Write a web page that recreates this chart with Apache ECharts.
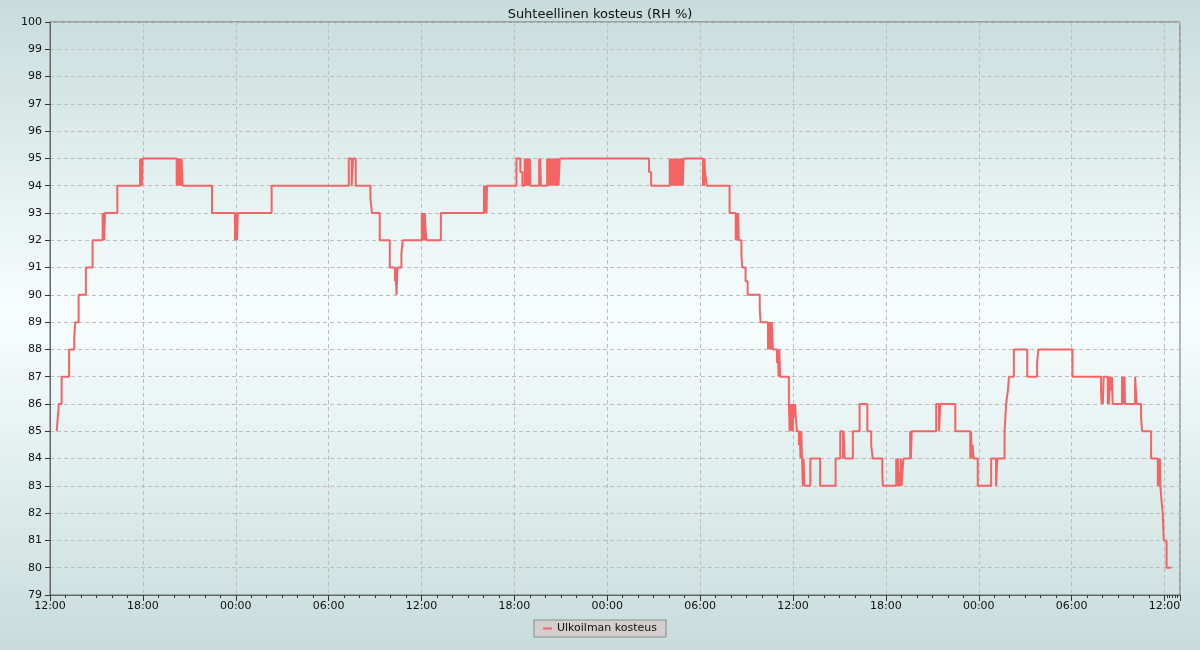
<!DOCTYPE html>
<html><head><meta charset="utf-8">
<script src="https://cdn.jsdelivr.net/npm/echarts@6/dist/echarts.min.js"></script>
<style>html,body{margin:0;padding:0;background:#fff}#c{width:1200px;height:650px}</style>
</head><body><div id="c"></div><script>
// Day index (0..3) + clock time, day 0 = first day shown
const titleText = 'Suhteellinen kosteus (RH %)';
const seriesName = 'Ulkoilman kosteus';
const axisStart = '0 12:00';
const axisEnd = '3 13:00';
const yMin = 79, yMax = 100;
const times = [
'0 12:26','0 12:30','0 12:34','0 12:45','0 13:14','0 13:34','0 13:38','0 13:51','0 14:19','0 14:45',
'0 15:24','0 15:26','0 15:28','0 15:30','0 15:33','0 16:21','0 17:49','0 17:51','0 17:54','0 17:56','0 17:59',
'0 20:11','0 20:13','0 20:15','0 20:18','0 20:21','0 20:24','0 20:27','0 20:30','0 20:34','0 22:28',
'0 23:57','0 23:59','1 00:01','1 00:03','1 00:05','1 00:08','1 02:19','1 07:18','1 07:29','1 07:35','1 07:45','1 08:42','1 08:48',
'1 09:18','1 09:57','1 10:17','1 10:19','1 10:21','1 10:23','1 10:25','1 10:27','1 10:42','1 10:47',
'1 12:01','1 12:03','1 12:05','1 12:07','1 12:09','1 12:11','1 12:13','1 12:15','1 12:19','1 13:15',
'1 16:02','1 16:04','1 16:06','1 16:08','1 16:10','1 16:12','1 16:14','1 18:08','1 18:23','1 18:31',
'1 18:40','1 18:42','1 18:44','1 18:46','1 18:48','1 18:50','1 18:52','1 18:54','1 18:56','1 18:58','1 19:00','1 19:02',
'1 19:36','1 19:38','1 19:40','1 19:43',
'1 20:07','1 20:10','1 20:12','1 20:15','1 20:18','1 20:21','1 20:24','1 20:27','1 20:30','1 20:33','1 20:36','1 20:39','1 20:42','1 20:45','1 20:48','1 20:51','1 20:56',
'2 02:42','2 02:50',
'2 04:02','2 04:05','2 04:08','2 04:11','2 04:14','2 04:17','2 04:20','2 04:23','2 04:26','2 04:29','2 04:32','2 04:35','2 04:38','2 04:41','2 04:44','2 04:47','2 04:50','2 04:53','2 04:56',
'2 06:11','2 06:13','2 06:15','2 06:17','2 06:19','2 06:26','2 07:54',
'2 08:18','2 08:21','2 08:24','2 08:27','2 08:30','2 08:40','2 08:43','2 08:56','2 09:04','2 09:51','2 09:54',
'2 10:23','2 10:26','2 10:29','2 10:32','2 10:35','2 10:38','2 10:42','2 10:58','2 11:01','2 11:04','2 11:07','2 11:10',
'2 11:44','2 11:47','2 11:50','2 11:53','2 11:56','2 11:59','2 12:02','2 12:05','2 12:08','2 12:11','2 12:15',
'2 12:23','2 12:26','2 12:29','2 12:32','2 12:35','2 12:38','2 12:41','2 12:44','2 13:07','2 13:45','2 14:45',
'2 15:03','2 15:14','2 15:16','2 15:20','2 15:52','2 16:18','2 16:48','2 17:03','2 17:09','2 17:46','2 17:48',
'2 18:40','2 18:43','2 18:46','2 18:49','2 18:52','2 18:55','2 18:58','2 19:01','2 19:04','2 19:08',
'2 19:34','2 19:37','2 19:40','2 21:15','2 21:26','2 21:31','2 22:29',
'2 23:27','2 23:30','2 23:33','2 23:36','2 23:40','2 23:56',
'3 00:48','3 01:07','3 01:12','3 01:40','3 01:46','3 01:53','3 01:57','3 02:16','3 03:08','3 03:46','3 03:51','3 06:03',
'3 07:54','3 07:56','3 07:59','3 08:01','3 08:04','3 08:20','3 08:22','3 08:24','3 08:30','3 08:33','3 08:36','3 08:39',
'3 09:15','3 09:18','3 09:20','3 09:22','3 09:25','3 09:27','3 10:06','3 10:09','3 10:12','3 10:29','3 10:33',
'3 11:08','3 11:34','3 11:37','3 11:40','3 11:42','3 11:44','3 11:48','3 11:53','3 11:57','3 12:08','3 12:25'
];
const values = [
85,85.5,86,87,88,88.5,89,90,91,92,
93,92,93,92,93,94,95,94,95,94,95,
94,95,94,95,94,95,94,95,94,93,
92,93,92,93,92,93,94,95,94,95,94,93.5,93,
92,91,90.5,91,90.5,90,90.5,91,91.5,92,
93,92,93,92,93,92,93,92.5,92,93,
94,93,94,93,94,93,94,95,94.5,94,
95,94,95,94,95,94,95,94,95,94,95,94,
95,94,95,94,
95,94.5,95,94,95,94,95,94,95,94,95,94,95,94,95,94,95,
94.5,94,
95,94,95,94,95,94,95,94,95,94,95,94,95,94,95,94,95,94,95,
94,95,94,95,94.5,94,93,
92,93,92,93,92,91.5,91,90.5,90,89.5,89,
88,89,88,89,88,89,88,87.5,88,87,88,87,
86,85,86,85,86,85,86,85.5,86,85.5,85,
84.5,85,84,85,84,83,84,83,84,83,84,
85,84,85,84,85,86,85,84.5,84,83.5,83,
84,83,84,83,83.5,83,84,83,83.5,84,
85,84,85,86,85,86,85,
84,85,84,84.5,84,83,
84,83,84,85,86,86.5,87,88,87,87.5,88,87,
86.5,86,86.5,86,87,86,87,86,87,86.5,87,86,
87,86,87,86,87,86,87,86.5,86,85.5,85,
84,83,84,83,84,83,82.5,82,81,80,80
];

function toTime(s){
  const [d, hm] = s.split(' ');
  const [h, m] = hm.split(':').map(Number);
  return new Date(2024, 0, 15 + Number(d), h, m).getTime();
}
const pad = n => (n < 10 ? '0' : '') + n;
const font = 'DejaVu Sans';
const chart = echarts.init(document.getElementById('c'), null, {renderer:'canvas'});
chart.setOption({
  animation: false,
  backgroundColor: {type:'linear', x:0, y:0, x2:0, y2:1, colorStops:[
    {offset:0, color:'#c7dcdb'}, {offset:0.48, color:'#f8fefe'}, {offset:1, color:'#c7dcdb'}]},
  title: {text: titleText, left:'center', top:3,
    textStyle:{fontSize:13, fontWeight:'normal', color:'#111', fontFamily:font}},
  grid: {left:50, right:20, top:22, bottom:55, show:true, borderColor:'#666', borderWidth:1, backgroundColor:'transparent'},
  legend: {bottom:13, left:'center', data:[{name:seriesName, icon:'rect'}], itemWidth:9, itemHeight:2, itemGap:6,
    backgroundColor:'#d3cfcf', borderColor:'#8a8a8a', borderWidth:1, borderRadius:0, padding:[3,9],
    textStyle:{fontSize:11, color:'#111', fontFamily:font}},
  xAxis: {type:'time', min: toTime(axisStart), max: toTime(axisEnd),
    minInterval: 6*3600*1000 + 60000, splitNumber: 12,
    axisLine:{lineStyle:{color:'#666', width:1}},
    axisTick:{show:true, length:6, lineStyle:{color:'#333'}},
    minorTick:{show:true, splitNumber:6, length:3, lineStyle:{color:'#333'}},
    axisLabel:{fontSize:11, color:'#111', fontFamily:font, margin:6, showMaxLabel:false,
      formatter: v => { const d = new Date(v); return pad(d.getHours()) + ':' + pad(d.getMinutes()); }},
    splitLine:{show:true, lineStyle:{color:'#bdbdbd', type:[4,3], width:1}}},
  yAxis: {type:'value', min:yMin, max:yMax, interval:1,
    axisLine:{show:true, lineStyle:{color:'#666', width:1}},
    axisTick:{show:true, length:5, lineStyle:{color:'#333'}},
    axisLabel:{fontSize:11, color:'#111', fontFamily:font, margin:8},
    splitLine:{show:true, lineStyle:{color:'#bdbdbd', type:[4,3], width:1}}},
  series: [{name: seriesName, type:'line', step:'end', showSymbol:false, symbol:'none',
    color:'#f46464', lineStyle:{color:'#f46464', width:2},
    emphasis:{disabled:true},
    data: times.map((t,i) => [toTime(t), values[i]])}]
});
</script></body></html>
